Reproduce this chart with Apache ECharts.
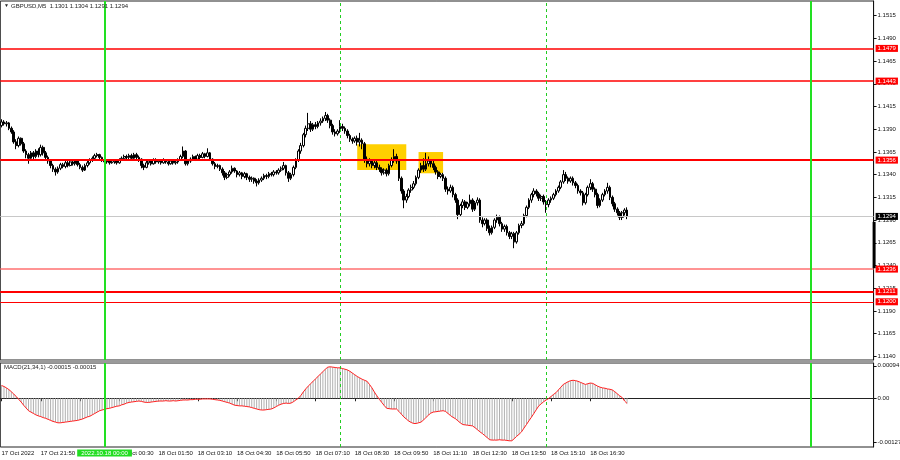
<!DOCTYPE html>
<html><head><meta charset="utf-8">
<script src="https://cdn.jsdelivr.net/npm/echarts@6/dist/echarts.min.js"></script>
<style>html,body{margin:0;padding:0;background:#fff}#c{width:900px;height:460px}</style>
</head><body><div id="c"></div>
<script>
// [open, close, low, high]  GBPUSD M5 from 17 Oct 20:30
const candles = [
[1.1394,1.1398,1.1392,1.1401],[1.1398,1.1396,1.1394,1.1400],[1.1396,1.1397,1.1393,1.1399],[1.1397,1.1391,1.1389,1.1398],
[1.1391,1.1387,1.1385,1.1393],[1.1387,1.1376,1.1374,1.1389],[1.1376,1.1372,1.1368,1.1379],[1.1372,1.1380,1.1370,1.1382],
[1.1380,1.1374,1.1372,1.1381],[1.1374,1.1366,1.1364,1.1376],[1.1366,1.1362,1.1358,1.1368],[1.1362,1.1358,1.1352,1.1364],
[1.1358,1.1364,1.1356,1.1366],[1.1364,1.1360,1.1357,1.1366],[1.1360,1.1366,1.1358,1.1368],[1.1366,1.1362,1.1359,1.1369],
[1.1362,1.1370,1.1360,1.1373],[1.1370,1.1364,1.1361,1.1372],[1.1364,1.1359,1.1357,1.1366],[1.1359,1.1355,1.1352,1.1361],
[1.1355,1.1350,1.1347,1.1357],[1.1350,1.1346,1.1343,1.1352],[1.1346,1.1343,1.1339,1.1348],[1.1343,1.1347,1.1341,1.1349],
[1.1347,1.1351,1.1345,1.1353],[1.1351,1.1349,1.1347,1.1353],[1.1349,1.1353,1.1347,1.1355],[1.1353,1.1350,1.1348,1.1355],
[1.1350,1.1354,1.1349,1.1356],[1.1354,1.1352,1.1350,1.1356],[1.1352,1.1355,1.1350,1.1357],[1.1355,1.1351,1.1349,1.1356],
[1.1351,1.1348,1.1346,1.1353],[1.1348,1.1345,1.1343,1.1350],[1.1345,1.1350,1.1344,1.1352],[1.1350,1.1353,1.1348,1.1355],
[1.1353,1.1356,1.1351,1.1358],[1.1356,1.1358,1.1354,1.1360],[1.1358,1.1361,1.1357,1.1363],[1.1361,1.1362,1.1359,1.1364],
[1.1362,1.1359,1.1357,1.1363],[1.1359,1.1356,1.1354,1.1360],[1.1356,1.1354,1.1352,1.1357],[1.1354,1.1355,1.1352,1.1357],
[1.1355,1.1353,1.1351,1.1356],[1.1353,1.1354,1.1352,1.1356],[1.1354,1.1355,1.1352,1.1357],[1.1355,1.1353,1.1351,1.1356],
[1.1353,1.1356,1.1352,1.1358],[1.1356,1.1358,1.1355,1.1360],[1.1358,1.1360,1.1356,1.1362],[1.1360,1.1359,1.1357,1.1362],
[1.1359,1.1361,1.1357,1.1363],[1.1361,1.1358,1.1356,1.1363],[1.1358,1.1362,1.1357,1.1364],[1.1362,1.1359,1.1357,1.1364],
[1.1359,1.1357,1.1354,1.1361],[1.1357,1.1350,1.1347,1.1358],[1.1350,1.1348,1.1345,1.1352],[1.1348,1.1353,1.1347,1.1355],
[1.1353,1.1355,1.1351,1.1357],[1.1355,1.1352,1.1350,1.1357],[1.1352,1.1356,1.1351,1.1358],[1.1356,1.1354,1.1352,1.1358],
[1.1354,1.1355,1.1352,1.1357],[1.1355,1.1353,1.1351,1.1357],[1.1353,1.1356,1.1352,1.1358],[1.1356,1.1354,1.1352,1.1357],
[1.1354,1.1352,1.1350,1.1356],[1.1352,1.1355,1.1351,1.1357],[1.1355,1.1353,1.1351,1.1357],[1.1353,1.1354,1.1351,1.1356],
[1.1354,1.1356,1.1352,1.1358],[1.1356,1.1360,1.1355,1.1362],[1.1360,1.1366,1.1358,1.1371],[1.1366,1.1352,1.1350,1.1367],
[1.1352,1.1355,1.1350,1.1357],[1.1355,1.1357,1.1353,1.1359],[1.1357,1.1360,1.1355,1.1362],[1.1360,1.1357,1.1355,1.1361],
[1.1357,1.1361,1.1356,1.1363],[1.1361,1.1359,1.1357,1.1363],[1.1359,1.1363,1.1358,1.1365],[1.1363,1.1360,1.1358,1.1364],
[1.1360,1.1364,1.1359,1.1369],[1.1364,1.1357,1.1355,1.1365],[1.1357,1.1352,1.1350,1.1358],[1.1352,1.1349,1.1346,1.1354],
[1.1349,1.1350,1.1347,1.1352],[1.1350,1.1346,1.1344,1.1351],[1.1346,1.1342,1.1339,1.1348],[1.1342,1.1337,1.1334,1.1344],
[1.1337,1.1340,1.1335,1.1342],[1.1340,1.1343,1.1338,1.1345],[1.1343,1.1347,1.1341,1.1350],[1.1347,1.1344,1.1342,1.1348],
[1.1344,1.1340,1.1337,1.1345],[1.1340,1.1342,1.1338,1.1344],[1.1342,1.1338,1.1335,1.1343],[1.1338,1.1341,1.1336,1.1343],
[1.1341,1.1337,1.1334,1.1342],[1.1337,1.1335,1.1332,1.1339],[1.1335,1.1336,1.1332,1.1338],[1.1336,1.1333,1.1330,1.1337],
[1.1333,1.1331,1.1327,1.1335],[1.1331,1.1334,1.1329,1.1336],[1.1334,1.1336,1.1332,1.1338],[1.1336,1.1339,1.1334,1.1341],
[1.1339,1.1338,1.1335,1.1341],[1.1338,1.1341,1.1336,1.1343],[1.1341,1.1340,1.1338,1.1343],[1.1340,1.1343,1.1338,1.1345],
[1.1343,1.1342,1.1340,1.1345],[1.1342,1.1345,1.1340,1.1347],[1.1345,1.1347,1.1343,1.1349],[1.1347,1.1350,1.1345,1.1354],
[1.1350,1.1342,1.1339,1.1351],[1.1342,1.1336,1.1332,1.1344],[1.1336,1.1340,1.1334,1.1342],[1.1340,1.1348,1.1338,1.1350],
[1.1348,1.1356,1.1346,1.1358],[1.1356,1.1366,1.1354,1.1368],[1.1366,1.1372,1.1363,1.1375],[1.1372,1.1384,1.1370,1.1386],
[1.1384,1.1391,1.1381,1.1394],[1.1391,1.1396,1.1388,1.1408],[1.1396,1.1390,1.1387,1.1399],[1.1390,1.1395,1.1388,1.1397],
[1.1395,1.1393,1.1390,1.1398],[1.1393,1.1397,1.1391,1.1399],[1.1397,1.1399,1.1394,1.1402],[1.1399,1.1402,1.1397,1.1404],
[1.1402,1.1405,1.1399,1.1409],[1.1405,1.1400,1.1397,1.1407],[1.1400,1.1394,1.1391,1.1402],[1.1394,1.1387,1.1384,1.1396],
[1.1387,1.1385,1.1382,1.1390],[1.1385,1.1388,1.1383,1.1390],[1.1388,1.1393,1.1386,1.1400],[1.1393,1.1391,1.1388,1.1396],
[1.1391,1.1388,1.1385,1.1393],[1.1388,1.1383,1.1380,1.1390],[1.1383,1.1379,1.1376,1.1385],[1.1379,1.1377,1.1374,1.1381],
[1.1377,1.1380,1.1375,1.1382],[1.1380,1.1376,1.1372,1.1383],[1.1376,1.1378,1.1371,1.1386],[1.1378,1.1374,1.1368,1.1380],
[1.1374,1.1357,1.1353,1.1376],[1.1357,1.1352,1.1348,1.1360],[1.1352,1.1355,1.1349,1.1358],[1.1355,1.1350,1.1347,1.1357],
[1.1350,1.1353,1.1347,1.1356],[1.1353,1.1348,1.1345,1.1355],[1.1348,1.1346,1.1343,1.1351],[1.1346,1.1342,1.1339,1.1348],
[1.1342,1.1345,1.1340,1.1347],[1.1345,1.1341,1.1338,1.1347],[1.1341,1.1350,1.1339,1.1352],[1.1350,1.1356,1.1348,1.1359],
[1.1356,1.1360,1.1353,1.1368],[1.1360,1.1355,1.1352,1.1363],[1.1355,1.1336,1.1333,1.1357],[1.1336,1.1322,1.1319,1.1338],
[1.1322,1.1312,1.1303,1.1324],[1.1312,1.1316,1.1309,1.1319],[1.1316,1.1323,1.1314,1.1325],[1.1323,1.1326,1.1320,1.1329],
[1.1326,1.1330,1.1324,1.1333],[1.1330,1.1337,1.1328,1.1339],[1.1337,1.1345,1.1335,1.1347],[1.1345,1.1350,1.1342,1.1353],
[1.1350,1.1346,1.1343,1.1358],[1.1346,1.1352,1.1344,1.1364],[1.1352,1.1355,1.1349,1.1360],[1.1355,1.1352,1.1348,1.1357],
[1.1352,1.1348,1.1345,1.1355],[1.1348,1.1343,1.1340,1.1350],[1.1343,1.1338,1.1335,1.1345],[1.1338,1.1340,1.1336,1.1342],
[1.1340,1.1336,1.1333,1.1342],[1.1336,1.1324,1.1321,1.1338],[1.1324,1.1322,1.1318,1.1327],[1.1322,1.1326,1.1320,1.1329],
[1.1326,1.1318,1.1315,1.1328],[1.1318,1.1312,1.1309,1.1320],[1.1312,1.1296,1.1291,1.1314],[1.1296,1.1306,1.1294,1.1308],
[1.1306,1.1310,1.1303,1.1313],[1.1310,1.1304,1.1301,1.1312],[1.1304,1.1308,1.1302,1.1310],[1.1308,1.1312,1.1305,1.1318],
[1.1312,1.1302,1.1299,1.1314],[1.1302,1.1309,1.1300,1.1311],[1.1309,1.1312,1.1306,1.1315],[1.1312,1.1290,1.1287,1.1314],
[1.1290,1.1286,1.1282,1.1293],[1.1286,1.1290,1.1284,1.1292],[1.1290,1.1281,1.1278,1.1292],[1.1281,1.1276,1.1273,1.1284],
[1.1276,1.1282,1.1274,1.1284],[1.1282,1.1290,1.1280,1.1292],[1.1290,1.1293,1.1287,1.1296],[1.1293,1.1286,1.1283,1.1295],
[1.1286,1.1280,1.1277,1.1288],[1.1280,1.1283,1.1277,1.1285],[1.1283,1.1276,1.1273,1.1285],[1.1276,1.1272,1.1269,1.1278],
[1.1272,1.1275,1.1269,1.1277],[1.1275,1.1266,1.1259,1.1277],[1.1266,1.1276,1.1264,1.1278],[1.1276,1.1284,1.1274,1.1286],
[1.1284,1.1286,1.1281,1.1289],[1.1286,1.1295,1.1284,1.1297],[1.1295,1.1304,1.1293,1.1306],[1.1304,1.1312,1.1302,1.1314],
[1.1312,1.1318,1.1309,1.1320],[1.1318,1.1322,1.1315,1.1325],[1.1322,1.1319,1.1316,1.1324],[1.1319,1.1314,1.1311,1.1321],
[1.1314,1.1316,1.1311,1.1318],[1.1316,1.1310,1.1307,1.1318],[1.1310,1.1307,1.1298,1.1312],[1.1307,1.1312,1.1304,1.1314],
[1.1312,1.1314,1.1309,1.1316],[1.1314,1.1318,1.1312,1.1320],[1.1318,1.1322,1.1316,1.1324],[1.1322,1.1326,1.1320,1.1328],
[1.1326,1.1332,1.1324,1.1334],[1.1332,1.1340,1.1330,1.1345],[1.1340,1.1336,1.1333,1.1343],[1.1336,1.1333,1.1330,1.1338],
[1.1333,1.1336,1.1331,1.1338],[1.1336,1.1331,1.1328,1.1338],[1.1331,1.1328,1.1325,1.1333],[1.1328,1.1322,1.1319,1.1330],
[1.1322,1.1320,1.1317,1.1324],[1.1320,1.1309,1.1306,1.1322],[1.1309,1.1318,1.1307,1.1320],[1.1318,1.1326,1.1316,1.1328],
[1.1326,1.1330,1.1323,1.1335],[1.1330,1.1324,1.1321,1.1332],[1.1324,1.1318,1.1315,1.1326],[1.1318,1.1306,1.1303,1.1320],
[1.1306,1.1312,1.1304,1.1314],[1.1312,1.1318,1.1310,1.1320],[1.1318,1.1322,1.1316,1.1324],[1.1322,1.1326,1.1319,1.1331],
[1.1326,1.1315,1.1312,1.1328],[1.1315,1.1308,1.1305,1.1317],[1.1308,1.1302,1.1299,1.1310],[1.1302,1.1298,1.1295,1.1304],
[1.1298,1.1293,1.1290,1.1300],[1.1293,1.1298,1.1290,1.1300],[1.1298,1.1301,1.1295,1.1303],[1.1301,1.1294,1.1291,1.1304]
];

// MACD(21,34,1) main value per candle
const macd = [
0.00037,0.00034,0.00030,0.00025,0.00019,0.00012,0.00005,-0.00003,-0.00011,-0.00020,
-0.00028,-0.00036,-0.00040,-0.00044,-0.00048,-0.00051,-0.00053,-0.00056,-0.00058,-0.00061,
-0.00064,-0.00067,-0.00069,-0.00071,-0.00071,-0.00070,-0.00069,-0.00068,-0.00067,-0.00066,
-0.00065,-0.00064,-0.00062,-0.00060,-0.00057,-0.00054,-0.00052,-0.00048,-0.00044,-0.00040,
-0.00036,-0.00034,-0.00032,-0.00030,-0.00029,-0.00027,-0.00025,-0.00023,-0.00022,-0.00019,
-0.00017,-0.00014,-0.00012,-0.00011,-0.00010,-0.00009,-0.00008,-0.00009,-0.00011,-0.00012,
-0.00012,-0.00011,-0.00010,-0.00009,-0.00008,-0.00008,-0.00008,-0.00007,-0.00008,-0.00008,
-0.00007,-0.00008,-0.00007,-0.00006,-0.00005,-0.00005,-0.00005,-0.00004,-0.00004,-0.00003,
-0.00003,-0.00003,-0.00002,-0.00002,-0.00002,-0.00002,-0.00003,-0.00004,-0.00005,-0.00006,
-0.00008,-0.00010,-0.00012,-0.00014,-0.00017,-0.00020,-0.00021,-0.00022,-0.00022,-0.00023,
-0.00024,-0.00025,-0.00027,-0.00029,-0.00031,-0.00033,-0.00034,-0.00034,-0.00033,-0.00032,
-0.00031,-0.00028,-0.00024,-0.00020,-0.00017,-0.00015,-0.00014,-0.00015,-0.00014,-0.00010,
-0.00005,0.00000,0.00008,0.00018,0.00027,0.00035,0.00042,0.00049,0.00056,0.00063,
0.00070,0.00077,0.00084,0.00090,0.00091,0.00090,0.00089,0.00088,0.00088,0.00086,
0.00084,0.00082,0.00078,0.00073,0.00068,0.00063,0.00059,0.00055,0.00052,0.00049,
0.00040,0.00030,0.00018,0.00007,-0.00003,-0.00012,-0.00021,-0.00029,-0.00030,-0.00031,
-0.00031,-0.00031,-0.00038,-0.00046,-0.00054,-0.00060,-0.00066,-0.00070,-0.00073,-0.00073,
-0.00071,-0.00069,-0.00063,-0.00056,-0.00049,-0.00043,-0.00040,-0.00039,-0.00038,-0.00037,
-0.00036,-0.00038,-0.00044,-0.00050,-0.00055,-0.00059,-0.00065,-0.00071,-0.00076,-0.00077,
-0.00078,-0.00079,-0.00080,-0.00085,-0.00091,-0.00097,-0.00102,-0.00108,-0.00114,-0.00120,
-0.00121,-0.00121,-0.00121,-0.00120,-0.00121,-0.00121,-0.00122,-0.00123,-0.00123,-0.00117,
-0.00110,-0.00104,-0.00097,-0.00086,-0.00076,-0.00065,-0.00055,-0.00044,-0.00033,-0.00022,
-0.00016,-0.00010,-0.00005,-0.00001,0.00005,0.00011,0.00016,0.00024,0.00032,0.00040,
0.00044,0.00048,0.00051,0.00052,0.00051,0.00049,0.00046,0.00043,0.00040,0.00042,
0.00044,0.00043,0.00039,0.00035,0.00032,0.00030,0.00029,0.00027,0.00026,0.00024,
0.00019,0.00013,0.00007,0.00002,-0.00008,-0.00015
];

const priceTicks = [1.1140,1.1165,1.1190,1.1215,1.1240,1.1265,1.1290,1.1315,1.1340,1.1365,1.1390,1.1415,1.1440,1.1465,1.1490,1.1515];
const macdTicks = [-0.00127, 0, 0.00094];
const xTickLabels = ['17 Oct 2022','17 Oct 21:50','','18 Oct 00:30','18 Oct 01:50','18 Oct 03:10','18 Oct 04:30',
  '18 Oct 05:50','18 Oct 07:10','18 Oct 08:30','18 Oct 09:50','18 Oct 11:10','18 Oct 12:30','18 Oct 13:50','18 Oct 15:10','18 Oct 16:30'];
const levelPrices = [1.1479, 1.1443, 1.1356, 1.1236, 1.1211, 1.1200];
const currentPrice = 1.1294;
const dayLines = [42, 330];        // 18 Oct 00:00, 19 Oct 00:00
const sessionLines = [138, 222];   // 08:00, 15:00
const zones = [[145, 165, 1.13451, 1.13734], [170, 180, 1.13415, 1.13649]];
const axisMarkRange = [1.1237, 1.1288];
const headerText = 'GBPUSD,M5  1.1301 1.1304 1.1291 1.1294';
const macdText = 'MACD(21,34,1) -0.00015 -0.00015';
const crossLabel = '2022.10.18 00:00';

const SLOTS = 356, STEP = 16;
const categories = [];
const t0 = Date.UTC(2022, 9, 17, 20, 30);
for (let i = 0; i < SLOTS; i++) categories.push(new Date(t0 + i * 300000).toISOString().slice(0, 16).replace('T', ' '));

const FONT = 'Liberation Sans, Arial, sans-serif';
const FS = 6;
const levelStyles = [
  {color:'#ff0000', width:1.5}, {color:'#ff0000', width:1.5}, {color:'#ff0000', width:2},
  {color:'#ff7070', width:1.5}, {color:'#ff0000', width:2}, {color:'#ff0000', width:1.2}
];
const tagLabel = (bg) => ({show:true, position:'end', distance:2, color:'#fff', backgroundColor:bg,
  fontFamily:FONT, fontSize:FS, padding:[1,2,0,2], formatter:(p)=>p.value.toFixed(4)});
const vLines = () => [
  ...dayLines.map(i => ({xAxis:categories[i], lineStyle:{color:'#22e022', width:2, type:'solid'}, label:{show:false}})),
  ...sessionLines.map(i => ({xAxis:categories[i], lineStyle:{color:'#22cc22', width:1, type:[3,3]}, label:{show:false}}))
];

const chart = echarts.init(document.getElementById('c'), null, {renderer:'canvas'});
const GL = 0.3, GR = 26.4;
chart.setOption({
  animation:false,
  backgroundColor:'#fff',
  grid:[
    {left:GL, right:GR, top:1, height:359, show:true, borderColor:'#222', borderWidth:1, containLabel:false, outerBoundsMode:'none'},
    {left:GL, right:GR, top:363, height:84, show:true, borderColor:'#222', borderWidth:1, containLabel:false, outerBoundsMode:'none'}
  ],
  xAxis:[
    {type:'category', gridIndex:0, data:categories, boundaryGap:true,
     axisLine:{show:false}, axisTick:{show:false}, axisLabel:{show:false}, splitLine:{show:false}},
    {type:'category', gridIndex:1, data:categories, boundaryGap:true,
     axisLine:{show:true, lineStyle:{color:'#222'}},
     axisTick:{show:true, alignWithLabel:true, length:3, lineStyle:{color:'#222'},
       interval:(i)=> i % STEP === 0 && i / STEP < xTickLabels.length},
     axisLabel:{show:true, align:'left', margin:3, color:'#111', fontFamily:FONT, fontSize:FS,
       interval:(i)=> i % STEP === 0 && i / STEP < xTickLabels.length && xTickLabels[i/STEP] !== '',
       formatter:(v, i)=> xTickLabels[i/STEP] || ''},
     splitLine:{show:false}}
  ],
  yAxis:[
    {type:'value', gridIndex:0, position:'right', min:1.11359, max:1.15312,
     axisLine:{show:true, lineStyle:{color:'#111'}},
     axisTick:{show:true, length:3, customValues:priceTicks, lineStyle:{color:'#111'}},
     axisLabel:{show:true, customValues:priceTicks, margin:4, color:'#111', fontFamily:FONT, fontSize:FS,
       formatter:(v)=> v.toFixed(4)},
     splitLine:{show:false}},
    {type:'value', gridIndex:1, position:'right', min:-0.00141, max:0.00102,
     axisLine:{show:true, lineStyle:{color:'#111'}},
     axisTick:{show:true, length:3, customValues:macdTicks, lineStyle:{color:'#111'}},
     axisLabel:{show:true, customValues:macdTicks, margin:4, color:'#111', fontFamily:FONT, fontSize:FS,
       formatter:(v)=> Math.abs(v) < 1e-9 ? '0.00' : v.toFixed(5)},
     splitLine:{show:false}}
  ],
  series:[
    {type:'line', xAxisIndex:0, yAxisIndex:0, data:[], z:1, silent:true,
     markArea:{silent:true, itemStyle:{color:'#ffd000', opacity:1},
       data: zones.map(z => [{xAxis:categories[z[0]], yAxis:z[3]}, {xAxis:categories[z[1]], yAxis:z[2]}])}},
    {type:'candlestick', xAxisIndex:0, yAxisIndex:0, data:candles, barWidth:2.2, z:2,
     itemStyle:{color:'#ffffff', color0:'#000000', borderColor:'#000000', borderColor0:'#000000', borderWidth:1}},
    {type:'line', xAxisIndex:0, yAxisIndex:0, data:[], z:4, silent:true,
     markLine:{silent:true, symbol:'none', animation:false, precision:4,
       data:[
         ...levelPrices.map((p, k) => ({yAxis:p, lineStyle:{color:levelStyles[k].color, width:levelStyles[k].width, type:'solid', opacity:1},
           label:tagLabel('#ff0000')})),
         {yAxis:currentPrice, lineStyle:{color:'#c8c8c8', width:1, type:'solid'}, label:tagLabel('#000000')},
         ...vLines()
       ]}},
    {type:'bar', xAxisIndex:1, yAxisIndex:1, data:macd, barWidth:1, itemStyle:{color:'#b0b0b0'}},
    {type:'line', xAxisIndex:1, yAxisIndex:1, data:macd, symbol:'none', lineStyle:{color:'#ff2020', width:1}, z:3},
    {type:'line', xAxisIndex:1, yAxisIndex:1, data:[], z:4, silent:true,
     markLine:{silent:true, symbol:'none', animation:false, data:vLines()}}
  ]
});

// text overlays
const xc = chart.convertToPixel({xAxisIndex:1}, categories[dayLines[0]]);
const yTop = chart.convertToPixel({yAxisIndex:0}, axisMarkRange[1]);
const yBot = chart.convertToPixel({yAxisIndex:0}, axisMarkRange[0]);
const xAxisRight = 900 - GR;
chart.setOption({
  graphic:[
    {type:'rect', shape:{x:0, y:360, width:xAxisRight, height:3}, style:{fill:'#9a9a9a'}, z:10},
    {type:'rect', shape:{x:xAxisRight - 1, y:yTop, width:3, height:yBot - yTop}, style:{fill:'#000'}, z:10},
    {type:'text', x:4, y:6, style:{text:'\u25BC', fill:'#222', font:'5px ' + FONT, textVerticalAlign:'middle'}, z:10},
    {type:'text', x:11, y:6, style:{text:headerText, fill:'#222', font:FS + 'px ' + FONT, textVerticalAlign:'middle'}, z:10},
    {type:'text', x:4, y:367, style:{text:macdText, fill:'#222', font:FS + 'px ' + FONT, textVerticalAlign:'middle'}, z:10},
    {type:'text', x:xc, y:453, style:{text:crossLabel, fill:'#fff', font:FS + 'px ' + FONT, textAlign:'center',
      textVerticalAlign:'middle', backgroundColor:'#22dd22', padding:[1,4,0,4]}, z:10}
  ]
});
</script></body></html>
